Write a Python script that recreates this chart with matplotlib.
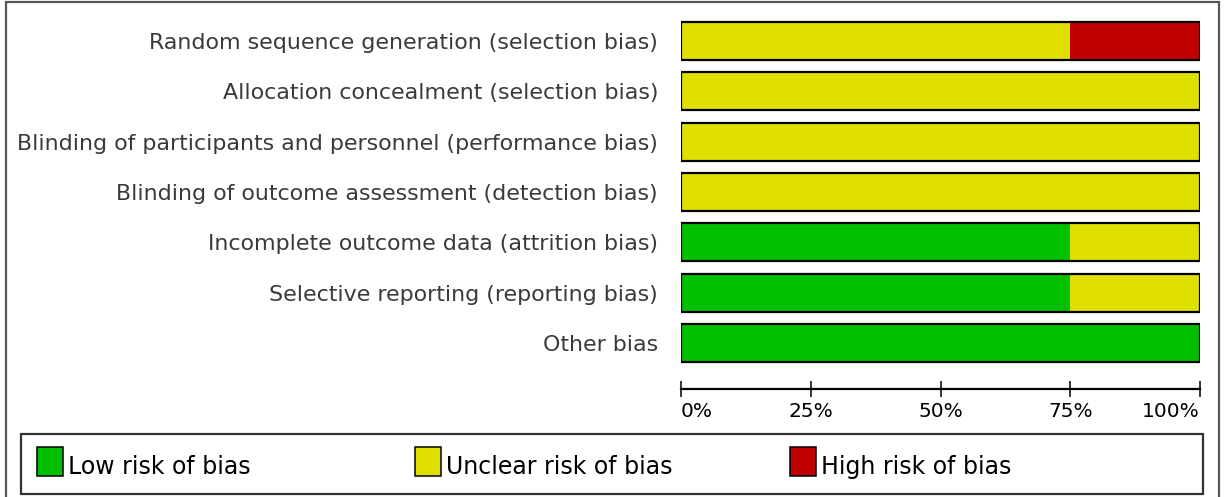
import matplotlib
matplotlib.use("Agg")
import matplotlib.pyplot as plt
from matplotlib.patches import Rectangle
import numpy as np

categories = [
    "Random sequence generation (selection bias)",
    "Allocation concealment (selection bias)",
    "Blinding of participants and personnel (performance bias)",
    "Blinding of outcome assessment (detection bias)",
    "Incomplete outcome data (attrition bias)",
    "Selective reporting (reporting bias)",
    "Other bias",
]
low = [0, 0, 0, 0, 75, 75, 100]
unclear = [75, 100, 100, 100, 25, 25, 0]
high = [25, 0, 0, 0, 0, 0, 0]
tick_values = [0, 25, 50, 75, 100]
tick_labels = ["0%", "25%", "50%", "75%", "100%"]
legend_labels = ["Low risk of bias", "Unclear risk of bias", "High risk of bias"]

GREEN = "#00c000"
YELLOW = "#e0e000"
RED = "#c00000"
FONT = "DejaVu Sans"

W, H = 1229, 497
fig = plt.figure(figsize=(W / 100, H / 100), dpi=100)

def fx(px):
    return px / W

def fy(py):
    return 1 - py / H

left, right, top, bottom = 681, 1200, 16, 368
ax = fig.add_axes([fx(left), fy(bottom), fx(right - left), (bottom - top) / H])

y = np.arange(len(categories))
low_a = np.array(low)
unc_a = np.array(unclear)
high_a = np.array(high)
h = 0.755
ax.barh(y, low_a, height=h, color=GREEN, linewidth=0)
ax.barh(y, unc_a, left=low_a, height=h, color=YELLOW, linewidth=0)
ax.barh(y, high_a, left=low_a + unc_a, height=h, color=RED, linewidth=0)
ax.barh(y, low_a + unc_a + high_a, height=h, fill=False, edgecolor="black", linewidth=1.6)

ax.set_xlim(0, 100)
ax.set_ylim(len(categories) - 0.5, -0.5)
ax.set_yticks(y)
ax.set_yticklabels(categories, fontsize=15.9, color="#3a3a3a", fontname=FONT)
ax.tick_params(axis="y", length=0, pad=16.5)

for s in ["top", "right", "left"]:
    ax.spines[s].set_visible(False)
ax.spines["bottom"].set_position(("outward", 15))
ax.spines["bottom"].set_linewidth(1.6)
ax.set_xticks(tick_values)
ax.set_xticklabels(tick_labels, fontsize=14.5, fontname=FONT, color="black")
ax.tick_params(axis="x", direction="inout", length=11, width=1.1, pad=4)
xl = ax.get_xticklabels()
xl[0].set_ha("left")
xl[-1].set_ha("right")

# outer frame
fig.add_artist(Rectangle((fx(6), fy(500)), fx(1219 - 6), (500 - 2) / H,
                         transform=fig.transFigure, fill=False,
                         edgecolor="#555555", linewidth=1.6, clip_on=False))
# legend box
fig.add_artist(Rectangle((fx(21), fy(494)), fx(1203 - 21), (494 - 434) / H,
                         transform=fig.transFigure, fill=False,
                         edgecolor="#333333", linewidth=1.6))
legend_x = [37, 415, 790]
for xp, lab, col in zip(legend_x, legend_labels, [GREEN, YELLOW, RED]):
    fig.add_artist(Rectangle((fx(xp), fy(476)), fx(26), 29 / H,
                             transform=fig.transFigure, facecolor=col,
                             edgecolor="black", linewidth=1.1))
    fig.text(fx(xp + 31), fy(467), lab, fontsize=17, fontname=FONT,
             ha="left", va="center", color="black")

fig.savefig("out.png", dpi=100)
